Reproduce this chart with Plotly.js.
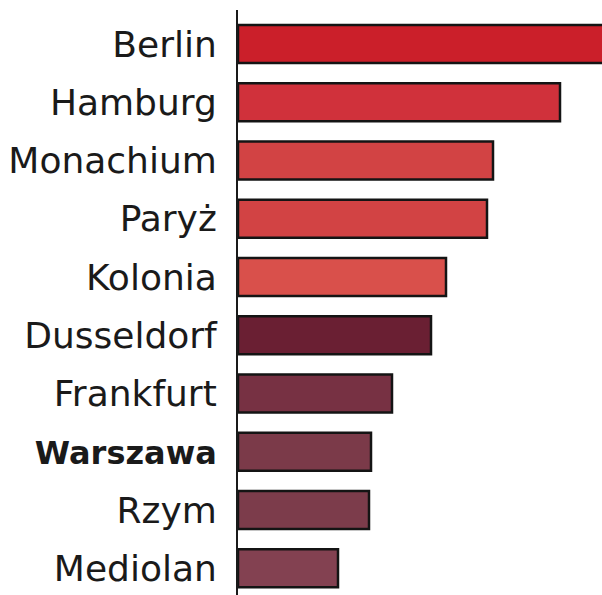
<!DOCTYPE html>
<html>
<head>
<meta charset="utf-8">
<script src="https://cdn.plot.ly/plotly-3.0.1.min.js"></script>
<style>html,body{margin:0;padding:0;background:#fff}#chart{width:602px;height:595px}</style>
</head>
<body>
<div id="chart"></div>
<script>
const cities = ["Berlin","Hamburg","Monachium","Paryż","Kolonia","Dusseldorf","Frankfurt","Warszawa","Rzym","Mediolan"];
const values = [372, 322, 255, 249, 208, 193, 154, 133, 131, 100];
const colors = ["#CB1F2A","#D0313B","#D24344","#D24344","#D9504B","#6A1F33","#773143","#7B3A49","#7C3C4B","#834151"];
const tickLabels = cities.map(c => c === "Warszawa" ? "<span style=\"font-size:32px\"><b>" + c + "</b></span>" : c);

const trace = {
  type: "bar",
  orientation: "h",
  y: cities,
  x: values,
  width: 0.65,
  marker: {color: colors, line: {color: "#141414", width: 2.5}},
  hoverinfo: "none"
};

const layout = {
  width: 602, height: 595,
  margin: {l: 238, r: 0, t: 10, b: 0},
  paper_bgcolor: "#fff", plot_bgcolor: "#fff",
  showlegend: false,
  font: {family: "'DejaVu Sans', sans-serif", color: "#1a1a1a", size: 36},
  xaxis: {range: [0, 364], showgrid: false, zeroline: false, showticklabels: false, showline: false, fixedrange: true},
  yaxis: {
    type: "category",
    range: [9.46, -0.584],
    tickvals: cities, ticktext: tickLabels,
    showgrid: false, zeroline: false,
    showline: true, linecolor: "#1a1a1a", linewidth: 2,
    ticks: "", ticklabelstandoff: 12,
    tickfont: {size: 36, color: "#1a1a1a"}
  }
};

Plotly.newPlot("chart", [trace], layout, {staticPlot: true, displayModeBar: false});
</script>
</body>
</html>
